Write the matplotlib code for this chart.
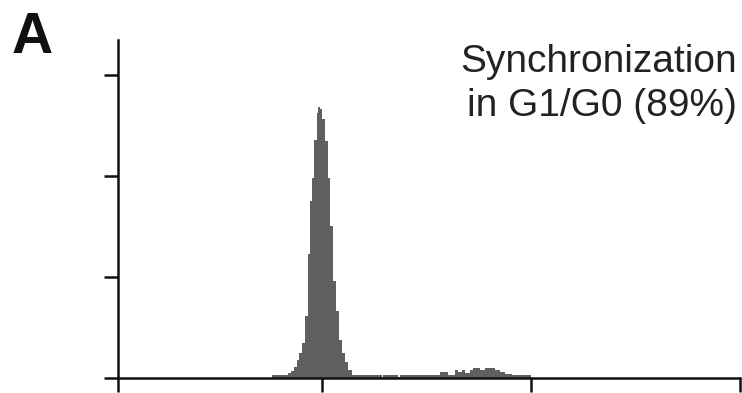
import matplotlib
matplotlib.use("Agg")
import matplotlib.pyplot as plt

plt.rcParams['font.family'] = ['Liberation Sans', 'DejaVu Sans']

# DNA content histogram (channel edges and cell counts)
edges = [194.4, 214.7, 218.5, 222.1, 225.0, 228.2, 231.9, 235.2, 238.5, 241.3,
         244.1, 246.6, 249.5, 250.7, 253.5, 256.4, 259.7, 263.0, 265.8, 269.1,
         273.1, 277.2, 280.1, 284.2, 288.2, 292.4, 298.5, 329.0, 331.0, 349.0,
         351.0, 400.5, 410.3, 418.9, 422.6, 427.5, 431.2, 437.3, 441.0, 449.5,
         455.7, 467.9, 474.0, 480.2, 488.7, 512.0]
counts = [3, 5, 7, 11, 18, 25, 35, 61, 123, 175,
          198, 236, 262, 268, 266, 256, 235, 198, 151, 96,
          66, 38, 25, 16, 8, 3, 2.5, 1, 2.5, 1,
          2.5, 5.6, 3, 8, 5.6, 8, 5, 8, 10, 8,
          10, 8, 5.6, 3.5, 2.5]

x_ticks = [5.5, 256, 512, 768]
y_ticks = [0, 100, 200, 300]
label = "Synchronization\nin G1/G0 (89%)"

fig = plt.figure(figsize=(7.42, 3.93), dpi=100)
ax = fig.add_axes([117.5 / 742, 15 / 393, (740 - 117.5) / 742, 338 / 393])

ax.stairs(counts, edges, fill=True, color='#5f5f5f', linewidth=0)

ax.set_xlim(5.5, 768)
ax.set_ylim(0, 334.7)
ax.set_xticks(x_ticks)
ax.set_yticks(y_ticks)
ax.set_xticklabels([])
ax.set_yticklabels([])
ax.tick_params(direction='out', length=10, width=1.8, color='#111111')

for side in ['top', 'right']:
    ax.spines[side].set_visible(False)
for side in ['left', 'bottom']:
    ax.spines[side].set_linewidth(1.8)
    ax.spines[side].set_color('#111111')

fig.text(737 / 742, 1 - 44 / 393, label, ha='right', va='top',
         fontsize=28, linespacing=1.3, color='#222222')
fig.text(12 / 742, 1 - 53 / 393, "A", ha='left', va='baseline',
         fontsize=41, fontweight='bold', color='#111111')

fig.savefig("out.png", dpi=100)
